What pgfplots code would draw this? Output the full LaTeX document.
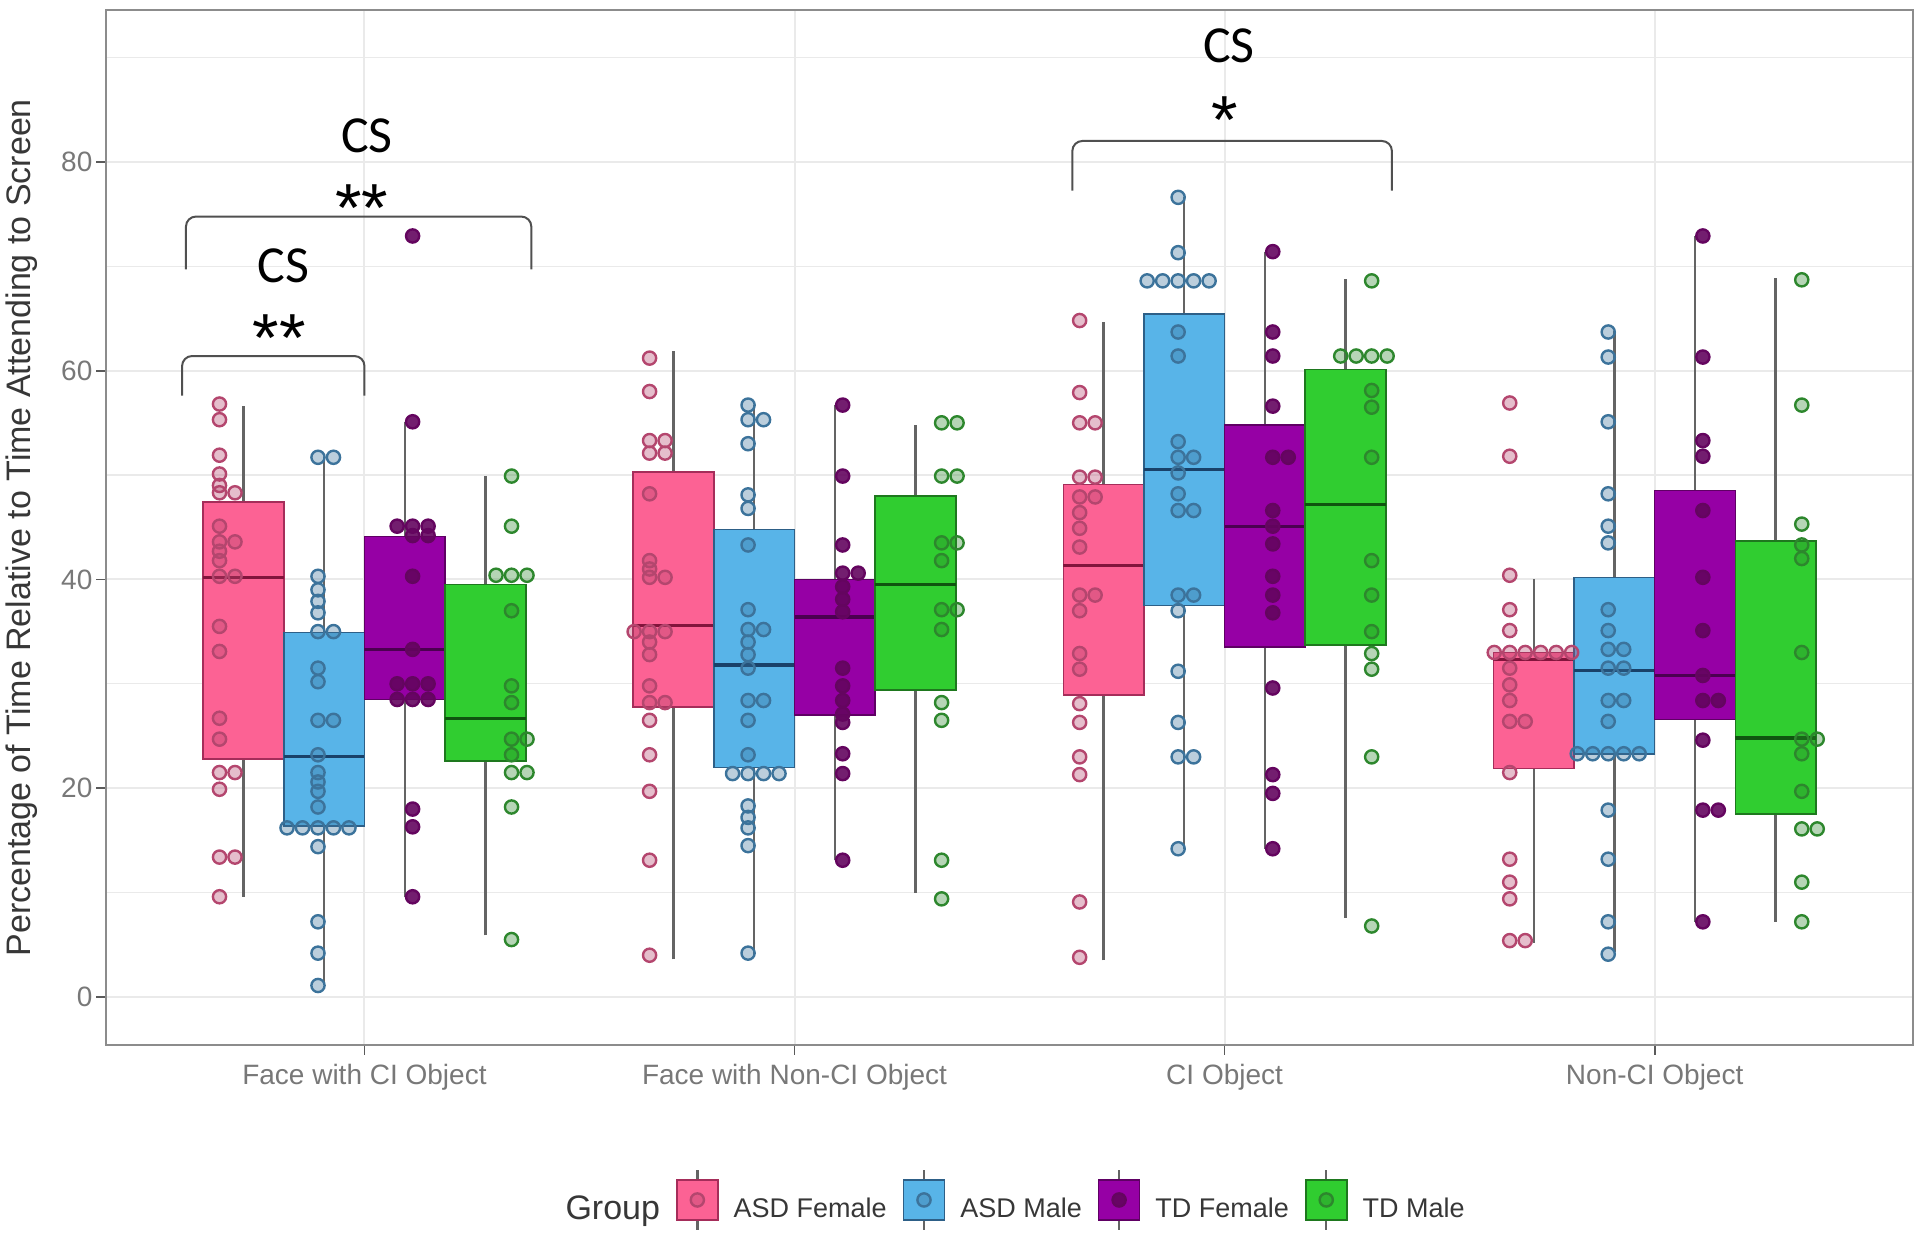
\documentclass[border=0pt]{standalone}
\usepackage{fontspec}
\setmainfont{Liberation Sans}
\newfontfamily\annfont{Carlito}
\usepackage{pgfplots}
\usepackage{pgfplotstable}
\pgfplotsset{compat=1.18}

\definecolor{pinkF}{RGB}{252,98,148}
\definecolor{pinkD}{RGB}{165,45,90}
\definecolor{pinkM}{RGB}{130,20,60}
\definecolor{pinkP}{RGB}{180,70,110}
\definecolor{blueF}{RGB}{88,180,232}
\definecolor{blueD}{RGB}{45,95,135}
\definecolor{blueM}{RGB}{25,65,105}
\definecolor{blueP}{RGB}{60,115,155}
\definecolor{purF}{RGB}{150,0,165}
\definecolor{purD}{RGB}{95,0,100}
\definecolor{purM}{RGB}{75,0,80}
\definecolor{purP}{RGB}{100,5,95}
\definecolor{grnF}{RGB}{48,205,48}
\definecolor{grnD}{RGB}{30,120,30}
\definecolor{grnM}{RGB}{15,85,15}
\definecolor{grnP}{RGB}{45,135,45}
\definecolor{whisk}{RGB}{100,100,100}
\definecolor{gridc}{RGB}{234,234,234}
\definecolor{ticklab}{RGB}{120,120,120}
\definecolor{tickc}{RGB}{90,90,90}
\definecolor{borderc}{RGB}{140,140,140}
\definecolor{labc}{RGB}{55,55,55}
\definecolor{brk}{RGB}{80,80,80}

\pgfplotsset{
  pinkbox/.style={draw=pinkD, fill=pinkF}, pinkmed/.style={draw=pinkM},
  bluebox/.style={draw=blueD, fill=blueF}, bluemed/.style={draw=blueM},
  purbox/.style={draw=purD, fill=purF},   purmed/.style={draw=purM},
  grnbox/.style={draw=grnD, fill=grnF},   grnmed/.style={draw=grnM},
}

% dot plots: g = category, k = stack slot, y = value
\pgfplotstableread{
g k y
1 0 56.8
1 0 55.3
1 0 51.9
1 0 50.1
1 0 49.0
1 0 48.3
1 1 48.3
1 0 45.1
1 0 43.6
1 1 43.6
1 0 42.7
1 0 41.8
1 0 40.3
1 1 40.3
1 0 35.5
1 0 33.1
1 0 26.7
1 0 24.7
1 0 21.5
1 1 21.5
1 0 19.9
1 0 13.4
1 1 13.4
1 0 9.6
2 0 61.2
2 0 58.0
2 0 53.3
2 1 53.3
2 0 52.1
2 1 52.1
2 0 48.2
2 0 41.8
2 0 41.0
2 0 40.2
2 1 40.2
2 -1 35.0
2 0 35.0
2 1 35.0
2 0 34.0
2 0 32.8
2 0 29.8
2 0 28.2
2 1 28.2
2 0 26.5
2 0 23.2
2 0 19.7
2 0 13.1
2 0 4.0
3 0 64.8
3 0 57.9
3 0 55.0
3 1 55.0
3 0 49.8
3 1 49.8
3 0 47.9
3 1 47.9
3 0 46.4
3 0 44.9
3 0 43.1
3 0 38.5
3 1 38.5
3 0 37.0
3 0 32.9
3 0 31.4
3 0 28.1
3 0 26.3
3 0 23.0
3 0 21.3
3 0 9.1
3 0 3.8
4 0 56.9
4 0 51.8
4 0 40.4
4 0 37.1
4 0 35.1
4 -1 33.0
4 0 33.0
4 1 33.0
4 2 33.0
4 3 33.0
4 4 33.0
4 0 31.5
4 0 29.9
4 0 28.4
4 0 26.4
4 1 26.4
4 0 21.5
4 0 13.2
4 0 11.0
4 0 9.4
4 0 5.4
4 1 5.4
}\pinkpts

\pgfplotstableread{
g k y
1 0 51.7
1 1 51.7
1 0 40.3
1 0 39.0
1 0 37.9
1 0 36.8
1 0 35.0
1 1 35.0
1 0 31.5
1 0 30.2
1 0 26.5
1 1 26.5
1 0 23.2
1 0 21.5
1 0 20.6
1 0 19.7
1 0 18.2
1 -2 16.2
1 -1 16.2
1 0 16.2
1 1 16.2
1 2 16.2
1 0 14.4
1 0 7.2
1 0 4.2
1 0 1.1
2 0 56.7
2 0 55.3
2 1 55.3
2 0 53.0
2 0 48.1
2 0 46.8
2 0 43.3
2 0 37.1
2 0 35.2
2 1 35.2
2 0 34.0
2 0 32.8
2 0 31.5
2 0 28.4
2 1 28.4
2 0 26.5
2 0 23.2
2 -1 21.4
2 0 21.4
2 1 21.4
2 2 21.4
2 0 18.3
2 0 17.2
2 0 16.2
2 0 14.5
2 0 4.2
3 0 76.6
3 0 71.3
3 -2 68.6
3 -1 68.6
3 0 68.6
3 1 68.6
3 2 68.6
3 0 63.7
3 0 61.4
3 0 53.2
3 0 51.7
3 1 51.7
3 0 50.2
3 0 48.2
3 0 46.6
3 1 46.6
3 0 38.5
3 1 38.5
3 0 37.0
3 0 31.2
3 0 26.3
3 0 23.0
3 1 23.0
3 0 14.2
4 0 63.7
4 0 61.3
4 0 55.1
4 0 48.2
4 0 45.1
4 0 43.5
4 0 37.1
4 0 35.1
4 0 33.3
4 1 33.3
4 0 31.5
4 1 31.5
4 0 28.4
4 1 28.4
4 0 26.4
4 -2 23.3
4 -1 23.3
4 0 23.3
4 1 23.3
4 2 23.3
4 0 17.9
4 0 13.2
4 0 7.2
4 0 4.1
}\bluepts

\pgfplotstableread{
g k y
1 0 72.9
1 0 55.1
1 -1 45.1
1 0 45.1
1 1 45.1
1 0 44.2
1 1 44.2
1 0 40.3
1 0 33.3
1 -1 30.0
1 0 30.0
1 1 30.0
1 -1 28.5
1 0 28.5
1 1 28.5
1 0 18.0
1 0 16.3
1 0 9.6
2 0 56.7
2 0 49.9
2 0 43.3
2 0 40.6
2 1 40.6
2 0 39.3
2 0 38.1
2 0 36.9
2 0 31.5
2 0 29.8
2 0 28.4
2 0 27.1
2 0 26.3
2 0 23.3
2 0 21.4
2 0 13.1
3 0 71.4
3 0 63.7
3 0 61.4
3 0 56.6
3 0 51.7
3 1 51.7
3 0 46.6
3 0 45.1
3 0 43.4
3 0 40.3
3 0 38.5
3 0 36.8
3 0 29.6
3 0 21.3
3 0 19.5
3 0 14.2
4 0 72.9
4 0 61.3
4 0 53.3
4 0 51.8
4 0 46.6
4 0 40.2
4 0 35.1
4 0 30.8
4 0 28.4
4 1 28.4
4 0 24.6
4 0 17.9
4 1 17.9
4 0 7.2
}\purpts

\pgfplotstableread{
g k y
1 0 49.9
1 0 45.1
1 -1 40.4
1 0 40.4
1 1 40.4
1 0 37.0
1 0 29.8
1 0 28.2
1 0 24.7
1 1 24.7
1 0 23.2
1 0 21.5
1 1 21.5
1 0 18.2
1 0 5.5
2 0 55.0
2 1 55.0
2 0 49.9
2 1 49.9
2 0 43.5
2 1 43.5
2 0 41.8
2 0 37.1
2 1 37.1
2 0 35.2
2 0 28.2
2 0 26.5
2 0 13.1
2 0 9.4
3 0 68.6
3 -2 61.4
3 -1 61.4
3 0 61.4
3 1 61.4
3 0 58.1
3 0 56.5
3 0 51.7
3 0 41.8
3 0 38.5
3 0 35.0
3 0 32.9
3 0 31.4
3 0 23.0
3 0 6.8
4 0 68.7
4 0 56.7
4 0 45.3
4 0 43.3
4 0 42.0
4 0 33.0
4 0 24.7
4 1 24.7
4 0 23.3
4 0 19.7
4 0 16.1
4 1 16.1
4 0 11.0
4 0 7.2
}\grnpts

% box: #1 style prefix, #2 x-left, #3 x-right, #4 x-centre, #5 lower whisker,
%      #6 lower quartile, #7 median, #8 upper quartile, #9 upper whisker
\newcommand{\bx}[9]{%
\addplot[forget plot, no marks, draw=whisk, line width=1.2pt] coordinates {(#4,#5) (#4,#6)};
\addplot[forget plot, no marks, draw=whisk, line width=1.2pt] coordinates {(#4,#8) (#4,#9)};
\addplot[forget plot, no marks, #1box, line width=0.8pt] coordinates {(#2,#6) (#3,#6) (#3,#8) (#2,#8)} -- cycle;
\addplot[forget plot, no marks, #1med, line width=1.6pt] coordinates {(#2,#7) (#3,#7)};
}

\newcommand{\lgkey}[4]{\addlegendimage{legend image code/.code={%
  \begin{scope}[yshift=4.7pt]
  \draw[draw=whisk, line width=1.2pt] (10.25pt,-15pt) -- (10.25pt,15pt);
  \draw[draw=#2, fill=#1, line width=0.8pt] (0pt,-10pt) rectangle (20.5pt,10pt);
  \draw[draw=#3, fill=#3, fill opacity=#4, line width=1.2pt] (10.25pt,0pt) circle (3.3pt);
  \end{scope}}}}

\begin{document}
\begin{tikzpicture}
\useasboundingbox (0,0) rectangle (960pt,617.5pt);
\begin{axis}[
  at={(53.2pt,95pt)}, anchor=south west,
  scale only axis, width=903.15pt, height=517.25pt,
  xmin=0.4, xmax=4.6, ymin=-4.6, ymax=94.5,
  clip=false,
  xtick={1,2,3,4},
  xticklabels={Face with CI Object, Face with Non-CI Object, CI Object, Non-CI Object},
  ytick={0,20,40,60,80}, minor ytick={10,30,50,70,90},
  grid=both,
  major grid style={draw=gridc, line width=1pt},
  minor grid style={draw=gridc, line width=0.6pt},
  tick align=outside, tick pos=left,
  major tick length=5pt, minor tick length=0pt,
  every tick/.append style={draw=tickc, line width=0.9pt},
  axis line style={draw=borderc, line width=1pt},
  ticklabel style={font=\fontsize{14}{16}\selectfont, text=ticklab},
  yticklabel style={anchor=east, xshift=1.5pt},
  xticklabel style={anchor=center, yshift=-10.9pt},
  /pgf/number format/assume math mode=true,
  ylabel={Percentage of Time Relative to Time Attending to Screen},
  every axis y label/.style={at={(axis description cs:-0.0467,0.5)}, rotate=90, anchor=center,
     font=\fontsize{17}{20}\selectfont, text=labc},
  legend columns=5,
  legend style={at={(axis description cs:0.5,-0.1498)}, anchor=center, draw=none, fill=none,
     font=\fontsize{13.5}{16}\selectfont, text=labc,
     /tikz/every even column/.append style={column sep=6pt},
     /tikz/every odd column/.append style={column sep=5.5pt}},
  legend cell align=left,
]
\addlegendimage{empty legend}
\addlegendentry[font=\fontsize{17}{20}\selectfont]{Group}
\lgkey{pinkF}{pinkD}{pinkP}{0.35}
\addlegendentry{ASD Female}
\lgkey{blueF}{blueD}{blueP}{0.35}
\addlegendentry{ASD Male}
\lgkey{purF}{purD}{purP}{0.9}
\addlegendentry{TD Female}
\lgkey{grnF}{grnD}{grnP}{0.35}
\addlegendentry{TD Male}

% ASD Female boxes
\bx{pink}{0.625}{0.8125}{0.71875}{9.6}{22.8}{40.2}{47.4}{56.6}
\bx{pink}{1.625}{1.8125}{1.71875}{3.6}{27.8}{35.6}{50.3}{61.9}
\bx{pink}{2.625}{2.8125}{2.71875}{3.5}{28.9}{41.3}{49.1}{64.7}
\bx{pink}{3.625}{3.8125}{3.71875}{5.2}{21.9}{32.3}{33.0}{40.0}
% ASD Male boxes
\bx{blue}{0.8125}{1.0}{0.90625}{1.1}{16.4}{23.0}{34.9}{51.7}
\bx{blue}{1.8125}{2.0}{1.90625}{3.8}{22.0}{31.8}{44.8}{56.7}
\bx{blue}{2.8125}{3.0}{2.90625}{14.2}{37.5}{50.5}{65.4}{76.6}
\bx{blue}{3.8125}{4.0}{3.90625}{4.3}{23.3}{31.3}{40.2}{63.8}
% TD Female boxes
\bx{pur}{1.0}{1.1875}{1.09375}{9.6}{28.5}{33.3}{44.1}{55.1}
\bx{pur}{2.0}{2.1875}{2.09375}{13.1}{27.0}{36.4}{40.0}{56.7}
\bx{pur}{3.0}{3.1875}{3.09375}{14.2}{33.5}{45.1}{54.8}{71.4}
\bx{pur}{4.0}{4.1875}{4.09375}{7.2}{26.6}{30.8}{48.5}{72.9}
% TD Male boxes
\bx{grn}{1.1875}{1.375}{1.28125}{5.9}{22.6}{26.7}{39.5}{49.9}
\bx{grn}{2.1875}{2.375}{2.28125}{10.0}{29.4}{39.5}{48.0}{54.8}
\bx{grn}{3.1875}{3.375}{3.28125}{7.6}{33.7}{47.2}{60.1}{68.8}
\bx{grn}{4.1875}{4.375}{4.28125}{7.2}{17.5}{24.8}{43.7}{68.9}

% dots
\addplot[forget plot, only marks, mark=*, mark size=3.3pt,
  mark options={draw=pinkP, fill=pinkP, fill opacity=0.35, line width=1.2pt}]
  table[x expr=\thisrow{g}-0.337+0.036*\thisrow{k}, y=y] {\pinkpts};
\addplot[forget plot, only marks, mark=*, mark size=3.3pt,
  mark options={draw=blueP, fill=blueP, fill opacity=0.35, line width=1.2pt}]
  table[x expr=\thisrow{g}-0.108+0.036*\thisrow{k}, y=y] {\bluepts};
\addplot[forget plot, only marks, mark=*, mark size=3.3pt,
  mark options={draw=purP, fill=purP, fill opacity=0.9, line width=1.2pt}]
  table[x expr=\thisrow{g}+0.112+0.036*\thisrow{k}, y=y] {\purpts};
\addplot[forget plot, only marks, mark=*, mark size=3.3pt,
  mark options={draw=grnP, fill=grnP, fill opacity=0.35, line width=1.2pt}]
  table[x expr=\thisrow{g}+0.342+0.036*\thisrow{k}, y=y] {\grnpts};

% significance brackets
\draw[brk, line width=1pt, rounded corners=5pt]
  (axis cs:0.576,57.6) -- (axis cs:0.576,61.4) -- (axis cs:1.0,61.4) -- (axis cs:1.0,57.6);
\draw[brk, line width=1pt, rounded corners=5pt]
  (axis cs:0.585,69.7) -- (axis cs:0.585,74.76) -- (axis cs:1.388,74.76) -- (axis cs:1.388,69.7);
\draw[brk, line width=1pt, rounded corners=5pt]
  (axis cs:2.646,77.25) -- (axis cs:2.646,82.0) -- (axis cs:3.389,82.0) -- (axis cs:3.389,77.25);
\node[anchor=base, inner sep=0pt, font=\annfont\fontsize{26}{30}\selectfont] at (axis cs:0.812,68.4) {CS};
\node[anchor=base, inner sep=0pt, font=\fontsize{34}{36}\selectfont] at (axis cs:0.802,60.9) {**};
\node[anchor=base, inner sep=0pt, font=\annfont\fontsize{26}{30}\selectfont] at (axis cs:1.006,80.9) {CS};
\node[anchor=base, inner sep=0pt, font=\fontsize{34}{36}\selectfont] at (axis cs:0.994,73.3) {**};
\node[anchor=base, inner sep=0pt, font=\annfont\fontsize{26}{30}\selectfont] at (axis cs:3.01,89.5) {CS};
\node[anchor=base, inner sep=0pt, font=\fontsize{34}{36}\selectfont] at (axis cs:3.0,81.8) {*};
\end{axis}
\end{tikzpicture}
\end{document}
